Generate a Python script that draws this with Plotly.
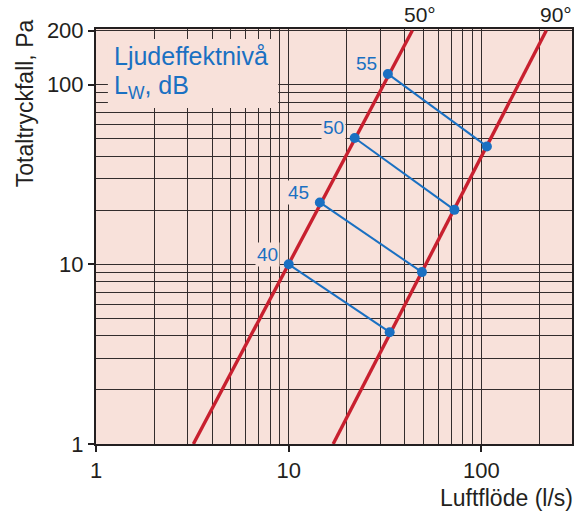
import numpy as np
import plotly.graph_objects as go

# ---- data ----
# Red characteristic lines (flow l/s, pressure Pa)
flow_50deg = [3.2, 10.0, 43.8]
dp_50deg = [1.0, 10.0, 200.0]
flow_90deg = [17.0, 106.7, 217.0]
dp_90deg = [1.0, 45.3, 200.0]

# Sound power level points
lw_levels = ["40", "45", "50", "55"]
flow_at_50 = [10.0, 14.5, 22.0, 32.7]
dp_at_50 = [10.0, 22.1, 50.5, 114.7]
flow_at_90 = [33.4, 49.1, 72.4, 106.7]
dp_at_90 = [4.19, 9.05, 20.1, 45.3]

x_ticks = [1, 10, 100]
y_ticks = [1, 10, 100, 200]
x_minor = [2, 3, 4, 5, 6, 7, 8, 9, 20, 30, 40, 50, 60, 70, 80, 90, 200]
y_minor = [2, 3, 4, 5, 6, 7, 8, 9, 20, 30, 40, 50, 60, 70, 80, 90]

PINK = "#f8e1da"
BLUE = "#1a70c2"
RED = "#c8202f"
GRID = "#332c2c"
DARK = "#231f20"
FONT = "Liberation Sans, Arial, Helvetica, sans-serif"

fig = go.Figure()

fig.add_trace(go.Scatter(x=flow_50deg, y=dp_50deg, mode="lines",
                         line=dict(color=RED, width=3.4), hoverinfo="skip"))
fig.add_trace(go.Scatter(x=flow_90deg, y=dp_90deg, mode="lines",
                         line=dict(color=RED, width=3.4), hoverinfo="skip"))

for i in range(len(lw_levels)):
    fig.add_trace(go.Scatter(
        x=[flow_at_50[i], flow_at_90[i]], y=[dp_at_50[i], dp_at_90[i]],
        mode="lines+markers",
        line=dict(color=BLUE, width=2),
        marker=dict(color=BLUE, size=10),
        hoverinfo="skip"))
    fig.add_annotation(x=np.log10(flow_at_50[i]), y=np.log10(dp_at_50[i]),
                       xref="x", yref="y", text=lw_levels[i], showarrow=False,
                       xanchor="center", yanchor="middle",
                       xshift=-21, yshift=10, bgcolor=PINK, borderpad=1,
                       font=dict(family=FONT, size=19, color=BLUE))

# mask box behind the legend text
fig.add_shape(type="rect", xref="paper", yref="paper",
              x0=0.025, x1=0.383, y0=0.8096, y1=0.976,
              fillcolor=PINK, line=dict(width=0), layer="above")

fig.add_annotation(xref="paper", yref="paper", x=0.034, y=0.936,
                   xanchor="left", yanchor="middle", align="left", showarrow=False,
                   text="Ljudeffektnivå",
                   font=dict(family=FONT, size=25, color=BLUE))
fig.add_annotation(xref="paper", yref="paper", x=0.034, y=0.8614,
                   xanchor="left", yanchor="middle", align="left", showarrow=False,
                   text="L<sub>W</sub>, dB",
                   font=dict(family=FONT, size=25, color=BLUE))

fig.add_annotation(xref="paper", yref="paper", x=0.681, y=1.0,
                   xanchor="center", yanchor="bottom",
                   yshift=1, text="50°", showarrow=False,
                   font=dict(family=FONT, size=21, color=DARK))
fig.add_annotation(xref="paper", yref="paper", x=0.9665, y=1.0,
                   xanchor="center", yanchor="bottom",
                   yshift=1, text="90°", showarrow=False,
                   font=dict(family=FONT, size=21, color=DARK))

fig.add_annotation(xref="paper", yref="paper", x=-0.1485, y=0.822,
                   xanchor="center", yanchor="middle", textangle=-90,
                   text="Totaltryckfall, Pa", showarrow=False,
                   font=dict(family=FONT, size=23, color=DARK))
fig.add_annotation(xref="paper", yref="paper", x=1.006, y=-0.13,
                   xanchor="right", yanchor="middle",
                   text="Luftflöde (l/s)", showarrow=False,
                   font=dict(family=FONT, size=23, color=DARK))

axis_common = dict(
    type="log", showline=True, linewidth=2, linecolor=DARK, mirror=True,
    ticks="outside", ticklen=6, tickwidth=1.5, tickcolor=DARK,
    showgrid=True, gridcolor=GRID, gridwidth=1,
    tickfont=dict(family=FONT, size=22, color=DARK),
    layer="above traces",
)

fig.update_xaxes(**axis_common, range=[0, np.log10(295)],
                 tickmode="array", tickvals=x_ticks, ticktext=[str(v) for v in x_ticks],
                 minor=dict(tickmode="array", tickvals=x_minor, showgrid=True,
                            gridcolor=GRID, gridwidth=1, ticklen=0))
fig.update_yaxes(**axis_common, range=[0, np.log10(204)],
                 tickmode="array", tickvals=y_ticks, ticktext=[str(v) for v in y_ticks],
                 minor=dict(tickmode="array", tickvals=y_minor, showgrid=True,
                            gridcolor=GRID, gridwidth=1, ticklen=0))

fig.update_layout(
    width=584, height=517,
    margin=dict(l=96, r=10, t=29, b=73),
    paper_bgcolor="white", plot_bgcolor=PINK,
    showlegend=False,
    font=dict(family=FONT, color=DARK),
)

fig.write_html("out.html", config={"displayModeBar": False},
               post_script="document.body.style.margin='0';document.body.style.padding='0';")
